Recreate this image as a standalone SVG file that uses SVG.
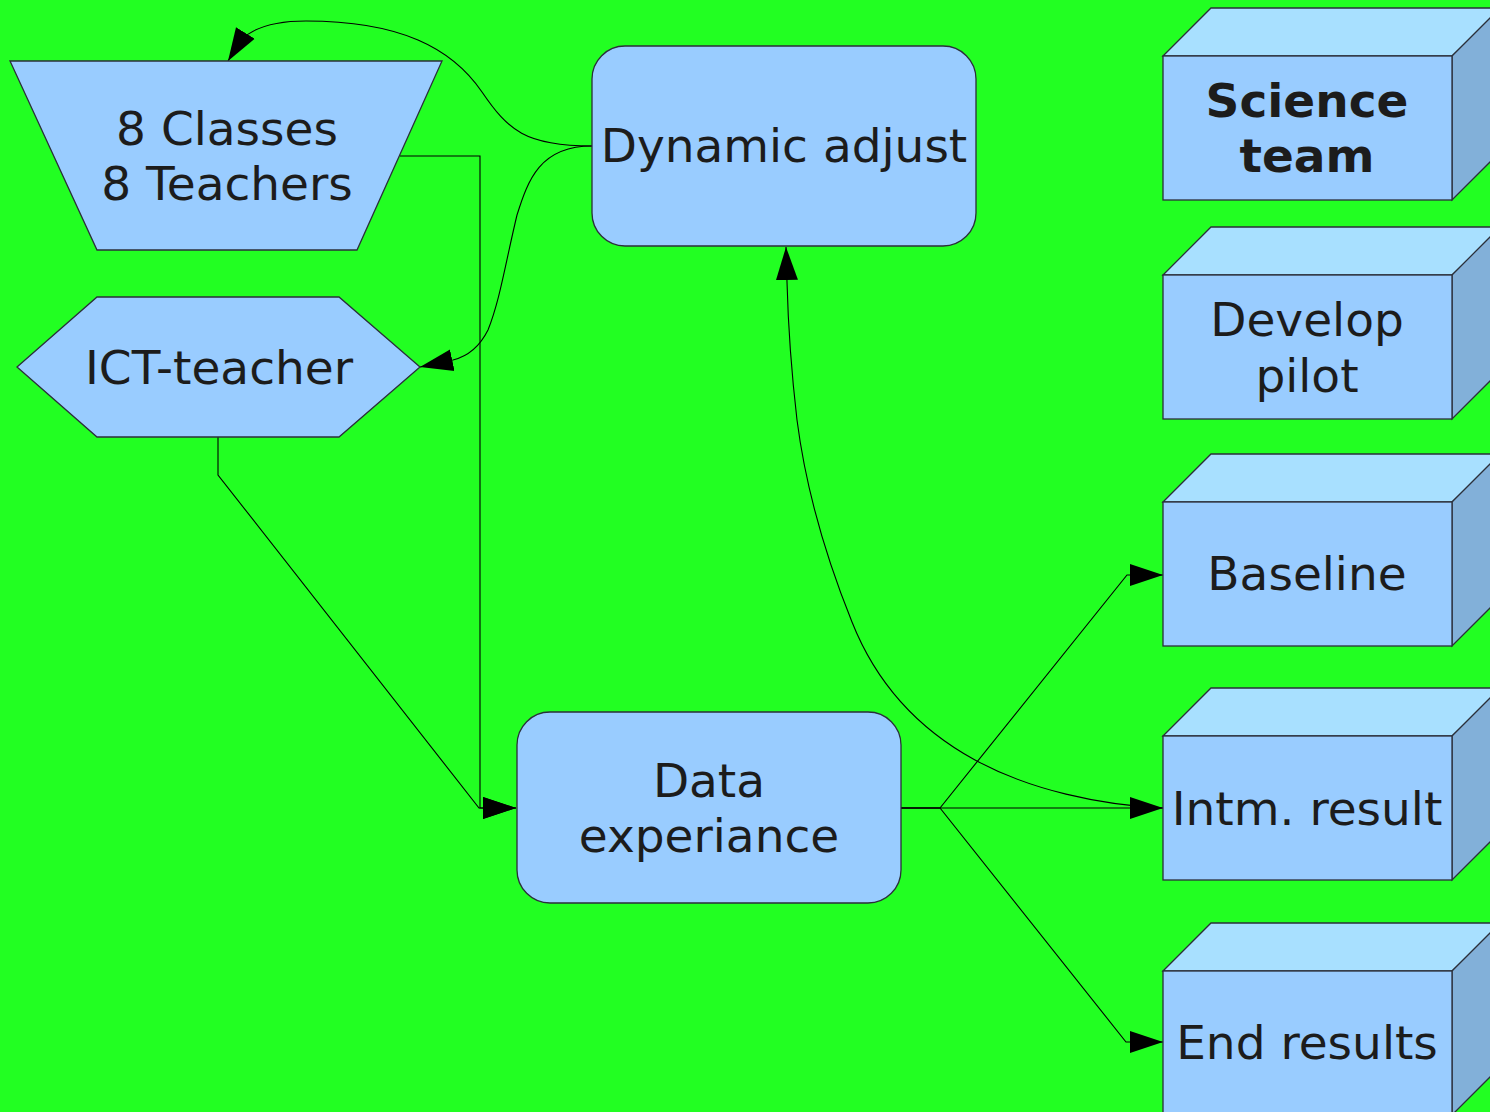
<svg xmlns="http://www.w3.org/2000/svg" xmlns:xlink="http://www.w3.org/1999/xlink" width="1490" height="1112" viewBox="0 0 1490 1112">
<style>
.node{fill:#99ccff;stroke:#2b2f3a;stroke-width:1.3}
.top{fill:#a8e0ff;stroke:#2b2f3a;stroke-width:1.3}
.side{fill:#82b0d9;stroke:#2b2f3a;stroke-width:1.3}
.lbl{font-family:"DejaVu Sans","Liberation Sans",sans-serif;font-size:47px;fill:#1c1c1c;text-anchor:middle}
.bold{font-weight:bold}
.con{fill:none;stroke:#000;stroke-width:1.1}
</style>
<defs>
<marker id="arr" markerUnits="userSpaceOnUse" markerWidth="34" markerHeight="24" viewBox="0 0 34 24" refX="33" refY="12" orient="auto">
<path d="M0,1 L33,12 L0,23 z" fill="#000"/>
</marker>
<g id="cube">
<polygon class="top" points="0,0 48,-48 340,-48 289,0"/>
<polygon class="side" points="289,0 337,-48 337,96 289,144"/>
<rect class="node" x="0" y="0" width="289" height="144"/>
</g>
</defs>
<rect x="0" y="0" width="1490" height="1112" fill="#22ff22"/>

<g id="connectors">
<path class="con" d="M592,146 C525,146 508,130 482,92 C452,48 400,21 306,21 C272,21 252,29 241,40 L228,61" marker-end="url(#arr)"/>
<path class="con" d="M592,146 C540,146 528,180 517,215 C505,265 500,300 488,330 C478,350 465,357 453,360 L420,367" marker-end="url(#arr)"/>
<path class="con" d="M400,156 L480,156 L480,808 L516,808" marker-end="url(#arr)"/>
<path class="con" d="M218,437 L218,475 L479,808 L516,808" marker-end="url(#arr)"/>
<path class="con" d="M901,808 L940,808 L1127,575 L1163,575" marker-end="url(#arr)"/>
<path class="con" d="M901,808 L1163,808" marker-end="url(#arr)"/>
<path class="con" d="M901,808 L940,808 L1126,1042 L1163,1042" marker-end="url(#arr)"/>
<path class="con" d="M1163,808 C1100,805 1030,790 975,760 C920,730 877,685 852,622 C827,560 806,490 797,420 C790,360 788,320 787,282 L786,247" marker-end="url(#arr)"/>
</g>

<g id="classes">
<polygon class="node" points="10,61 442,61 357,250 97,250"/>
<text class="lbl" x="227" y="145">8 Classes</text>
<text class="lbl" x="227" y="200">8 Teachers</text>
</g>

<g id="ict-teacher">
<polygon class="node" points="17,367 97,297 339,297 420,367 339,437 97,437"/>
<text class="lbl" x="219" y="384">ICT-teacher</text>
</g>

<g id="dynamic-adjust">
<rect class="node" x="592" y="46" width="384" height="200" rx="33" ry="33"/>
<text class="lbl" x="784" y="162">Dynamic adjust</text>
</g>

<g id="data-experiance">
<rect class="node" x="517" y="712" width="384" height="191" rx="33" ry="33"/>
<text class="lbl" x="709" y="797">Data</text>
<text class="lbl" x="709" y="852">experiance</text>
</g>

<g id="science-team">
<use xlink:href="#cube" x="1163" y="56"/>
<text class="lbl bold" x="1307" y="117">Science</text>
<text class="lbl bold" x="1307" y="172">team</text>
</g>

<g id="develop-pilot">
<use xlink:href="#cube" x="1163" y="275"/>
<text class="lbl" x="1307" y="336">Develop</text>
<text class="lbl" x="1307" y="392">pilot</text>
</g>

<g id="baseline">
<use xlink:href="#cube" x="1163" y="502"/>
<text class="lbl" x="1307" y="590">Baseline</text>
</g>

<g id="intm-result">
<use xlink:href="#cube" x="1163" y="736"/>
<text class="lbl" x="1307" y="825">Intm. result</text>
</g>

<g id="end-results">
<use xlink:href="#cube" x="1163" y="971"/>
<text class="lbl" x="1307" y="1059">End results</text>
</g>
</svg>
